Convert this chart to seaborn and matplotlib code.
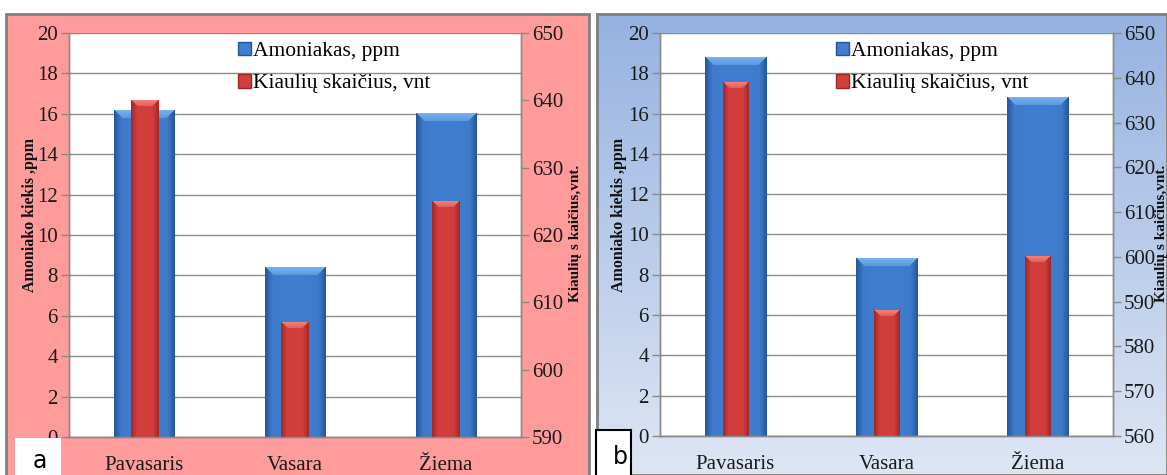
import numpy as np
import matplotlib
matplotlib.use("Agg")
import matplotlib.pyplot as plt
from matplotlib.patches import Rectangle, Patch
import seaborn as sns

# ---------------- data ----------------
categories = ["Pavasaris", "Vasara", "Žiema"]
amoniakas_a = [16.15, 8.4, 16.0]
kiaules_a = [640, 607, 625]
amoniakas_b = [18.8, 8.8, 16.8]
kiaules_b = [639, 588, 600]
left_ticks = [0, 2, 4, 6, 8, 10, 12, 14, 16, 18, 20]
right_ticks_a = [590, 600, 610, 620, 630, 640, 650]
right_ticks_b = [560, 570, 580, 590, 600, 610, 620, 630, 640, 650]
legend_labels = ["Amoniakas, ppm", "Kiaulių skaičius, vnt"]
left_label = "Amoniako kiekis ,ppm"
right_label = "Kiaulių s kaičius,vnt."
panel_letters = ["a", "b"]

plt.rcParams["font.family"] = ["Liberation Serif", "DejaVu Serif"]

W, H = 1167, 475
fig = plt.figure(figsize=(W / 100, H / 100), dpi=100)
fig.patch.set_facecolor("white")


def fr(x0, y0, x1, y1):
    """pixel box (top-left origin) -> figure fraction rect"""
    return [x0 / W, 1 - y1 / H, (x1 - x0) / W, (y1 - y0) / H]


BLUE = dict(base=(64, 126, 208), dark=(38, 84, 152), light=(120, 178, 238))
RED = dict(base=(210, 62, 60), dark=(160, 38, 38), light=(242, 128, 122))


def shade_bars(ax, col, bevel=7):
    base = np.array(col["base"]) / 255
    dark = np.array(col["dark"]) / 255
    light = np.array(col["light"]) / 255
    for p in list(ax.patches):
        x0, y0, w, h = p.get_x(), p.get_y(), p.get_width(), p.get_height()
        (px0, py0) = ax.transData.transform((x0, y0))
        (px1, py1) = ax.transData.transform((x0 + w, y0 + h))
        wp = max(int(round(abs(px1 - px0))), 2)
        hp = max(int(round(abs(py1 - py0))), 2)
        cols = np.arange(wp) + 0.5
        rows = np.arange(hp) + 0.5
        dl = np.broadcast_to(cols[None, :], (hp, wp))
        dr = np.broadcast_to((wp - cols)[None, :], (hp, wp))
        dt = np.broadcast_to(rows[:, None], (hp, wp))
        t = cols / wp
        prof = np.sin(np.pi * t) ** 0.4
        img = dark[None, None, :] * (1 - prof[None, :, None]) * 0.3 + \
            base[None, None, :] * (0.7 + 0.3 * prof[None, :, None])
        img = np.broadcast_to(img, (hp, wp, 3)).copy()
        side = np.minimum(dl, dr)
        side_mask = (side < bevel) & (side <= dt)
        f = (side / bevel)[..., None]
        img[side_mask] = (dark * (1 - f) + base * f)[side_mask]
        top_mask = (dt < bevel) & (dt < side)
        g = (dt / bevel)[..., None]
        img[top_mask] = (light * (1 - g * 0.5) + base * g * 0.5)[top_mask]
        img = np.clip(img, 0, 1)
        ax.imshow(img, extent=(x0, x0 + w, y0, y0 + h), origin="upper",
                  aspect="auto", interpolation="bilinear",
                  zorder=p.get_zorder(), clip_path=p, clip_on=True)
        p.set_facecolor("none")
        p.set_edgecolor("none")


def draw_panel(box, amon, pigs, rticks, leg_x, bw=0.40, rw=0.18):
    ax = fig.add_axes(fr(*box))
    ax.set_facecolor("white")
    ax2 = ax.twinx()
    sns.barplot(x=categories, y=amon, ax=ax, color="#4080d0", width=bw,
                saturation=1, linewidth=0)
    sns.barplot(x=categories, y=pigs, ax=ax2, color="#d03c3c", width=rw,
                saturation=1, linewidth=0)
    ax.set_xlim(-0.5, 2.5)
    ax.set_ylim(0, 20)
    ax2.set_ylim(rticks[0], rticks[-1])
    ax.set_yticks(left_ticks)
    ax2.set_yticks(rticks)
    ax.set_ylabel("")
    ax2.set_ylabel("")
    ax.set_xlabel("")
    shade_bars(ax, BLUE, bevel=8)
    shade_bars(ax2, RED, bevel=6)
    ax.set_xlim(-0.5, 2.5)
    ax.set_ylim(0, 20)
    ax2.set_ylim(rticks[0], rticks[-1])
    ax.set_axisbelow(True)
    ax.yaxis.grid(True, color="#8a8a8a", lw=1)
    gray = "#8a8a8a"
    for a in (ax, ax2):
        a.spines["top"].set_visible(False)
        for s in ("left", "right", "bottom"):
            a.spines[s].set_color(gray)
            a.spines[s].set_linewidth(1)
    ax.tick_params(axis="y", length=6, width=1, color=gray, pad=2,
                   labelsize=15, labelcolor="#1a1a1a")
    ax2.tick_params(axis="y", length=6, width=1, color=gray, pad=2,
                    labelsize=15, labelcolor="#1a1a1a")
    ax.tick_params(axis="x", length=0, pad=14, labelsize=15,
                   labelcolor="#1a1a1a")
    handles = [Patch(facecolor=np.array(BLUE["base"]) / 255,
                     edgecolor=np.array(BLUE["dark"]) / 255),
               Patch(facecolor=np.array(RED["base"]) / 255,
                     edgecolor=np.array(RED["dark"]) / 255)]
    ax2.legend(handles, legend_labels, loc="upper left",
               bbox_to_anchor=(leg_x, 1.0), frameon=False, fontsize=15.5,
               handlelength=0.6, handleheight=0.6, handletextpad=0.1,
               labelspacing=0.6, borderaxespad=0.1, borderpad=0.3)
    return ax, ax2


# ---------- panel a background ----------
fig.patches.append(Rectangle((6 / W, 0 - 0.01), (589 - 6) / W, 1 - 14 / H + 0.01,
                             transform=fig.transFigure, facecolor="#ff9b9b",
                             edgecolor="#7f7f7f", lw=2, zorder=-5))

# ---------- panel b background (vertical gradient) ----------
axbg = fig.add_axes(fr(597, 14, 1167, 475))
axbg.set_zorder(-10)
grad = np.linspace(0, 1, 256)[:, None]
top_c = np.array([150, 178, 225]) / 255
bot_c = np.array([222, 230, 244]) / 255
gimg = top_c[None, None, :] * (1 - grad[..., None]) + bot_c[None, None, :] * grad[..., None]
gimg = np.broadcast_to(gimg, (256, 4, 3))
axbg.imshow(gimg, aspect="auto", extent=(0, 1, 0, 1), origin="upper")
axbg.set_xlim(0, 1)
axbg.set_ylim(0, 1)
axbg.set_xticks([])
axbg.set_yticks([])
for s in axbg.spines.values():
    s.set_color("#7f7f7f")
    s.set_linewidth(2)

# ---------- panels ----------
draw_panel((69, 33, 521, 437), amoniakas_a, kiaules_a, right_ticks_a, 0.355)
draw_panel((660, 33, 1113, 436), amoniakas_b, kiaules_b, right_ticks_b, 0.37,
           bw=0.41, rw=0.17)

# ---------- axis titles ----------
for x, y in ((30, 215), (619, 215)):
    fig.text(x / W, 1 - y / H, left_label, rotation=90, ha="center",
             va="center", fontsize=11.5, fontweight="bold", color="#111111")
for x, y in ((575, 233), (1162, 233)):
    fig.text(x / W, 1 - y / H, right_label, rotation=90, ha="center",
             va="center", fontsize=11, fontweight="bold", color="#111111")

# ---------- panel letters ----------
fig.patches.append(Rectangle((15 / W, 0 - 0.01), (61 - 15) / W, (476 - 439) / H + 0.01,
                             transform=fig.transFigure, facecolor="white",
                             edgecolor="none", zorder=20))
fig.patches.append(Rectangle((596 / W, 0 - 0.01), (631 - 596) / W, (476 - 431) / H + 0.01,
                             transform=fig.transFigure, facecolor="white",
                             edgecolor="black", lw=1.5, zorder=20))
fig.text(40 / W, 1 - 461 / H, panel_letters[0], ha="center", va="center",
         fontsize=17, family="DejaVu Sans", zorder=21)
fig.text(620 / W, 1 - 457 / H, panel_letters[1], ha="center", va="center",
         fontsize=17, family="DejaVu Sans", zorder=21)

fig.savefig("out.png", dpi=100)
